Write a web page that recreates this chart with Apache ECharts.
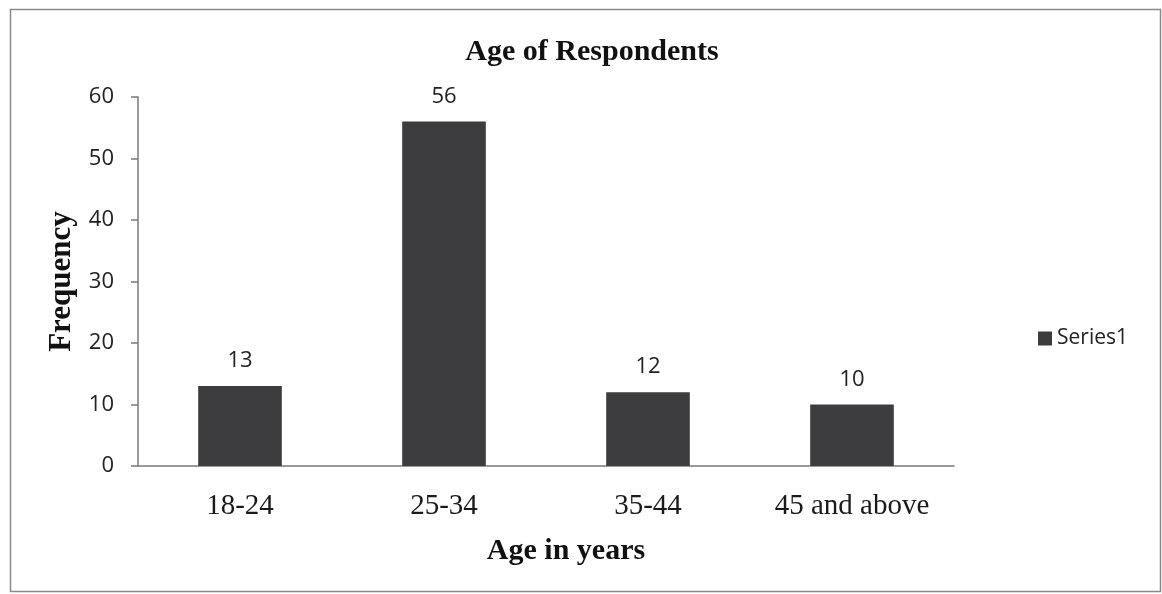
<!DOCTYPE html>
<html>
<head>
<meta charset="utf-8">
<script src="https://cdn.jsdelivr.net/npm/echarts@6/dist/echarts.min.js"></script>
<style>
  html, body { margin: 0; padding: 0; background: #ffffff; }
  #chart { width: 1162px; height: 594px; }
</style>
</head>
<body>
<div id="chart"></div>
<script>
// Age groups and respondent counts
const categories = ['18-24', '25-34', '35-44', '45 and above'];
const frequency = [13, 56, 12, 10];
const seriesName = 'Series1';
const yTicks = { min: 0, max: 60, interval: 10 };

const serif = '"Liberation Serif", "DejaVu Serif", serif';
const sans = '"Open Sans", "Noto Sans", "DejaVu Sans", sans-serif';

const chart = echarts.init(document.getElementById('chart'), null, { renderer: 'canvas' });

chart.setOption({
  backgroundColor: '#ffffff',
  animation: false,
  graphic: [{
    type: 'rect',
    left: 8, top: 7,
    shape: { width: 1150, height: 582 },
    style: { fill: 'none', stroke: '#8a8a8a', lineWidth: 1.5 },
    silent: true
  }],
  title: {
    text: 'Age of Respondents',
    left: 587, top: 32, textAlign: 'center',
    textStyle: { fontFamily: serif, fontWeight: 'bold', fontSize: 30, color: '#111' }
  },
  legend: {
    data: [seriesName],
    left: 1033, top: 323,
    itemWidth: 14, itemHeight: 14, itemGap: 6,
    icon: 'rect',
    textStyle: { fontFamily: sans, fontSize: 21, color: '#222' }
  },
  grid: { left: 138, top: 97, width: 816, height: 369, containLabel: false },
  xAxis: {
    type: 'category',
    data: categories,
    name: 'Age in years',
    nameLocation: 'middle',
    nameGap: 70,
    nameTextStyle: {
      fontFamily: serif, fontWeight: 'bold', fontSize: 30, color: '#111',
      padding: [0, 0, 0, 40]
    },
    axisLine: { lineStyle: { color: '#7a7a7a', width: 1.5 } },
    axisTick: { show: false },
    axisLabel: { fontFamily: serif, fontSize: 29, color: '#1a1a1a', margin: 26 }
  },
  yAxis: {
    type: 'value',
    min: yTicks.min, max: yTicks.max, interval: yTicks.interval,
    name: 'Frequency',
    nameLocation: 'middle',
    nameGap: 55,
    nameRotate: 90,
    nameTextStyle: { fontFamily: serif, fontWeight: 'bold', fontSize: 31, color: '#111' },
    axisLine: { show: true, lineStyle: { color: '#7a7a7a', width: 1.5 } },
    axisTick: { show: true, length: 7, lineStyle: { color: '#7a7a7a', width: 1.5 } },
    splitLine: { show: false },
    axisLabel: { fontFamily: sans, fontSize: 22, color: '#222', margin: 24 }
  },
  series: [{
    name: seriesName,
    type: 'bar',
    data: frequency,
    barWidth: '41%',
    itemStyle: { color: '#3d3d40' },
    label: {
      show: true, position: 'top', distance: 14,
      fontFamily: sans, fontSize: 22, color: '#222'
    }
  }]
});
</script>
</body>
</html>
